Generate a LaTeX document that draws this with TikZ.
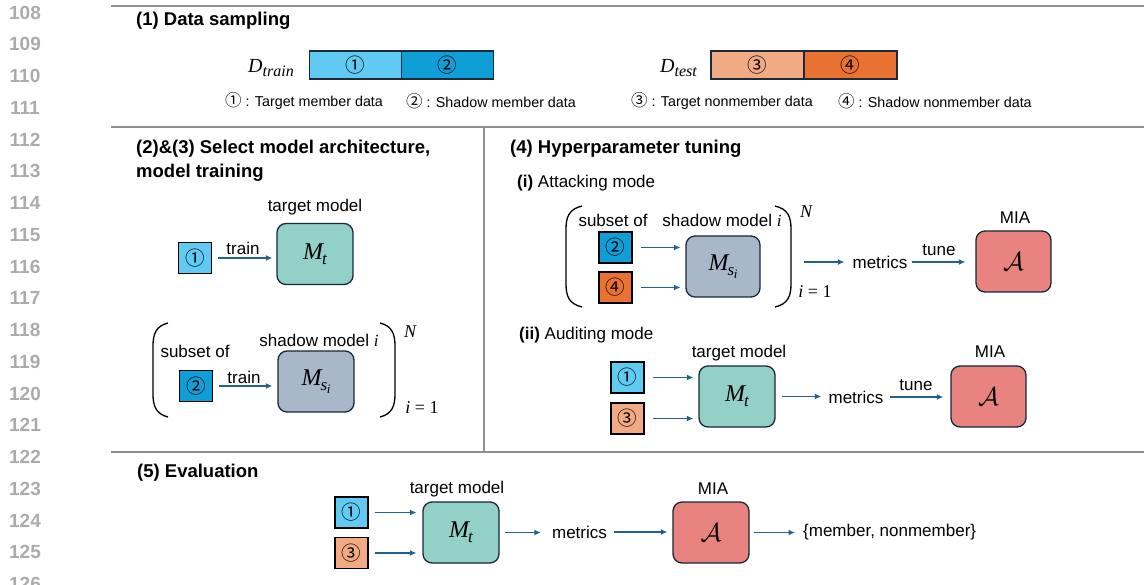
\RequirePackage{fix-cm}
\documentclass[tikz,border=0pt]{standalone}
\usepackage{fontspec}
\setmainfont{Liberation Sans}
\newfontfamily\cjk{Noto Sans CJK SC}
\newfontfamily\sr{Liberation Serif}
\usetikzlibrary{arrows.meta}
\newcommand\fsz[1]{\fontsize{#1}{#1}\selectfont}
\newcommand\vi[1]{{\sr\itshape #1}}
\newcommand\cd[1]{{\cjk\fsz{16.5}#1}}
\definecolor{sepgray}{HTML}{8F8F8F}
\definecolor{numgray}{HTML}{ABABAB}
\definecolor{cA}{HTML}{60CAF2}
\definecolor{cB}{HTML}{0F9ED5}
\definecolor{cC}{HTML}{F2AA84}
\definecolor{cD}{HTML}{E97132}
\definecolor{teal}{HTML}{92D0C8}
\definecolor{slate}{HTML}{A8B8C8}
\definecolor{mia}{HTML}{E8837F}
\definecolor{boxline}{HTML}{16283A}
\definecolor{bardark}{HTML}{1B2A38}
\definecolor{arrblue}{HTML}{21628F}
\newcommand\Mt{{\fsz{24}\vi{M}}\kern-1pt\raisebox{-5pt}{\fsz{17}\vi{t}}}
\newcommand\Ms{{\fsz{24}\vi{M}}\kern-1pt\raisebox{-5pt}{\fsz{17}\vi{s}\kern-0.5pt\raisebox{-3pt}{\fsz{13}\vi{i}}}}
\newcommand\MIA{\fsz{26}$\mathcal{A}$}
\tikzset{
 sepline/.style={draw=sepgray, line width=1.6pt},
 lnum/.style={font=\bfseries\fsz{19}, text=numgray, inner sep=0},
 ttl/.style={font=\bfseries\fsz{18.5}, anchor=west, inner sep=0},
 lbl/.style={font=\fsz{17}, inner sep=0},
 leg/.style={font=\fsz{14.3}, anchor=west, inner sep=0},
 barcell/.style={draw=bardark, line width=1.2pt, minimum height=28pt, minimum width=92pt, inner sep=0, font=\cjk\fsz{19.5}},
 dbox/.style={draw=black, line width=1.2pt, minimum width=33pt, minimum height=31pt, inner sep=0, font=\cjk\fsz{19.5}},
 model/.style={draw=boxline, line width=1.3pt, rounded corners=9pt, minimum width=76pt, minimum height=61pt, inner sep=0},
 arr/.style={draw=arrblue, line width=1.7pt, -{Latex[length=6.5pt,width=6pt]}},
 paren/.style={draw=black, line width=1.3pt},
 mlbl/.style={font=\sr\fsz{18}, inner sep=0},
}
\begin{document}
\begin{tikzpicture}[x=1pt,y=-1pt]
\useasboundingbox (0,0) rectangle (1144,585);
% line numbers
\foreach \k in {108,...,126}
  \node[lnum] (ln\k) at (25,{12.5+31.75*(\k-108)}) {\k};
% separators
\draw[sepline] (111,6) -- (1144,6);
\draw[sepline] (111,127) -- (1144,127);
\draw[sepline] (111,452) -- (1144,452);
\draw[sepline] (484,127) -- (484,452);

% (1) Data sampling
\node[ttl] (t1) at (136,21) {(1) Data sampling};
\node[inner sep=0, anchor=base west] (dtr) at (248,73) {{\fsz{20}\vi{D}}\raisebox{-4pt}{\fsz{16}\vi{train}}};
\node[barcell, fill=cA] (b1) at (355.5,65) {①};
\node[barcell, fill=cB] (b2) at (447.5,65) {②};
\node[inner sep=0, anchor=base west] (dte) at (660,73) {{\fsz{20}\vi{D}}\raisebox{-4pt}{\fsz{16}\vi{test}}};
\node[barcell, fill=cC, minimum width=93pt] (b3) at (757.5,65) {③};
\node[barcell, fill=cD, minimum width=93pt] (b4) at (850.5,65) {④};
\node[leg] (l1) at (225,101) {\cd{①} : Target member data};
\node[leg] (l2) at (406,101) {\cd{②} : Shadow member data};
\node[leg] (l3) at (631,101) {\cd{③} : Target nonmember data};
\node[leg] (l4) at (838,101) {\cd{④} : Shadow nonmember data};

% (2)&(3)
\node[ttl] (t2a) at (136,149) {(2)\&(3) Select model architecture,};
\node[ttl] (t2b) at (136,173) {model training};
\node[lbl] (tm2) at (315,207) {target model};
\node[dbox, fill=cA] (a1) at (195,258) {①};
\node[model, fill=teal] (amt) at (315,254) {\Mt};
\draw[arr, shorten <=6pt, shorten >=4pt] (a1.east) -- (a1.east -| amt.west);
\node[lbl] (tr1) at (243,248) {train};
\node[lbl] (sub2) at (195,351) {subset of};
\node[lbl] (sm2) at (319,340) {shadow model \vi{i}};
\node[dbox, fill=cB] (a2) at (196,386) {②};
\node[model, fill=slate] (ams) at (316,381.5) {\Ms};
\draw[arr, shorten <=6pt, shorten >=5pt] (a2.east) -- (a2.east -| ams.west);
\node[lbl] (tr2) at (244,377) {train};
\draw[paren] (168,323) .. controls (156,326) and (153,334) .. (153,346) -- (153,394) .. controls (153,406) and (156,414) .. (168,417);
\draw[paren] (380,323) .. controls (392,326) and (395,334) .. (395,346) -- (395,394) .. controls (395,406) and (392,414) .. (380,417);
\node[mlbl] (n2) at (410,332) {\vi{N}};
\node[mlbl] (i2) at (422,408) {\vi{i} = 1};

% (4) Hyperparameter tuning
\node[ttl] (t4) at (510,149) {(4) Hyperparameter tuning};
\node[lbl, anchor=west] (m1) at (517,183) {\textbf{(i)} Attacking mode};
\node[lbl] (sub4) at (613,220) {subset of};
\node[lbl] (sm4) at (722,220) {shadow model \vi{i}};
\node[dbox, fill=cB] (h2) at (615.5,247.5) {②};
\node[dbox, fill=cD] (h4) at (615.5,287.5) {④};
\node[model, fill=slate, minimum width=74pt] (hms) at (723,266.5) {\Ms};
\draw[arr, shorten <=8pt, shorten >=5pt] (h2.east) -- (h2.east -| hms.west);
\draw[arr, shorten <=8pt, shorten >=5pt] (h4.east) -- (h4.east -| hms.west);
\draw[paren] (582,206) .. controls (569,209) and (566,217) .. (566,229) -- (566,284) .. controls (566,296) and (569,304) .. (582,307);
\draw[paren] (775,206) .. controls (788,209) and (791,217) .. (791,229) -- (791,284) .. controls (791,296) and (788,304) .. (775,307);
\node[mlbl] (n4) at (806,212) {\vi{N}};
\node[mlbl] (i4) at (815,292) {\vi{i} = 1};
\coordinate (pr4) at (804,262);
\node[lbl] (met4) at (880,262) {metrics};
\draw[arr, shorten >=8pt] (pr4) -- (met4.west);
\node[lbl] (mial4) at (1015,218) {MIA};
\node[model, fill=mia, minimum width=75pt] (hmia) at (1013.5,261.5) {\MIA};
\draw[arr, shorten <=4pt, shorten >=10pt] (met4.east) -- (met4.east -| hmia.west);
\node[lbl] (tu4) at (939,250) {tune};

\node[lbl, anchor=west] (m2) at (519,335) {\textbf{(ii)} Auditing mode};
\node[lbl] (tm4) at (739,353) {target model};
\node[dbox, fill=cA] (g1) at (627.5,377.5) {①};
\node[dbox, fill=cC] (g3) at (627.5,418.5) {③};
\node[model, fill=teal] (gmt) at (737,396.5) {\Mt};
\draw[arr, shorten <=8pt, shorten >=5pt] (g1.east) -- (g1.east -| gmt.west);
\draw[arr, shorten <=8pt, shorten >=5pt] (g3.east) -- (g3.east -| gmt.west);
\node[lbl] (met5) at (856,397) {metrics};
\draw[arr, shorten <=6pt, shorten >=7pt] (gmt.east) -- (gmt.east -| met5.west);
\node[lbl] (mial5) at (990,352) {MIA};
\node[model, fill=mia, minimum width=75pt] (gmia) at (988.5,396.5) {\MIA};
\draw[arr, shorten <=6pt, shorten >=7pt] (met5.east) -- (met5.east -| gmia.west);
\node[lbl] (tu5) at (916,385) {tune};

% (5) Evaluation
\node[ttl] (t5) at (137,473) {(5) Evaluation};
\node[lbl] (tm6) at (457,489) {target model};
\node[lbl] (mial6) at (713,489) {MIA};
\node[dbox, fill=cA] (e1) at (351.5,512.5) {①};
\node[dbox, fill=cC] (e3) at (351.5,553) {③};
\node[model, fill=teal] (emt) at (461,532.5) {\Mt};
\draw[arr, shorten <=6pt, shorten >=6pt] (e1.east) -- (e1.east -| emt.west);
\draw[arr, shorten <=6pt, shorten >=6pt] (e3.east) -- (e3.east -| emt.west);
\node[lbl] (met6) at (579.5,532) {metrics};
\draw[arr, shorten <=5pt, shorten >=11pt] (emt.east) -- (emt.east -| met6.west);
\node[model, fill=mia] (emia) at (711,532.5) {\MIA};
\draw[arr, shorten <=7pt, shorten >=5pt] (met6.east) -- (met6.east -| emia.west);
\node[lbl, anchor=west] (res) at (803,532) {\{member, nonmember\}};
\draw[arr, shorten <=4pt, shorten >=8pt] (emia.east) -- (emia.east -| res.west);
\end{tikzpicture}
\end{document}
